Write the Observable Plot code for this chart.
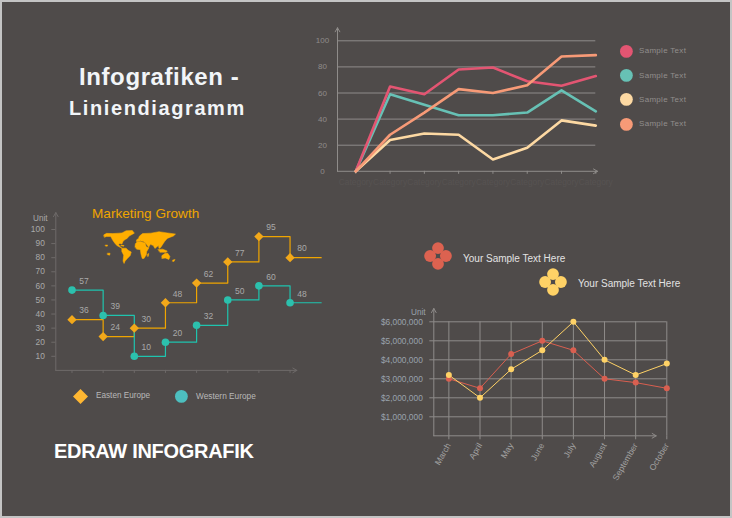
<!DOCTYPE html>
<html>
<head>
<meta charset="utf-8">
<script src="https://cdn.jsdelivr.net/npm/d3@7"></script>
<script src="https://cdn.jsdelivr.net/npm/@observablehq/plot@0.6"></script>
<style>
html,body{margin:0;padding:0;background:#4f4b4a;}
#page{position:relative;width:732px;height:518px;overflow:hidden;background:#4f4b4a;font-family:"Liberation Sans",Arial,sans-serif;box-sizing:border-box;border:2px solid #c4c4c4;}
#page .layer{position:absolute;left:-2px;top:-2px;width:732px;height:518px;}
#page .layer svg{background:transparent;display:block;}
.t{position:absolute;white-space:nowrap;line-height:1;}
</style>
</head>
<body>
<div id="page"></div>
<script>
// Top-right chart
const topCategories = ["Category","Category","Category","Category","Category","Category","Category","Category"];
const pinkValues   = [0,65,59,78,79.5,69,65.5,73];
const tealValues   = [0,59,51,43,43,45,62,46];
const creamValues  = [0,24,29,28,9,18,39,35];
const orangeValues = [0,28,45,63,60,66,88,89];
const topTicks = [0,20,40,60,80,100];
const topLegend = ["Sample Text","Sample Text","Sample Text","Sample Text"];

// Marketing growth chart
const stepValuesEast = [36,24,30,48,62,77,95,80,80];
const stepValuesWest = [57,39,10,20,32,50,60,48,48];
const stepTicks = [10,20,30,40,50,60,70,80,90,100];

// Lower-right chart
const months = ["March","April","May","June","July","August","September","October"];
const redValues    = [3.0,2.5,4.3,5.0,4.5,3.0,2.8,2.5];
const yellowValues = [3.2,2.0,3.5,4.5,6.0,4.0,3.2,3.8];
const moneyTicks = [1,2,3,4,5,6];

// Rough world outline (lon, lat)
const continents = {
  northAmerica:[[-168,65],[-155,71],[-125,70],[-95,72],[-80,73],[-60,82],[-30,83],[-20,72],[-45,60],[-55,50],[-65,45],[-75,38],[-80,27],[-90,29],[-97,25],[-90,16],[-80,9],[-90,13],[-105,20],[-115,30],[-125,42],[-135,58],[-155,58],[-165,55]],
  southAmerica:[[-80,9],[-60,9],[-50,0],[-35,-7],[-40,-22],[-55,-35],[-65,-45],[-70,-55],[-75,-45],[-72,-20],[-81,-5]],
  africa:[[-17,15],[-15,28],[-5,36],[10,37],[32,31],[38,15],[51,11],[40,-5],[38,-18],[27,-34],[18,-34],[12,-15],[9,3],[-8,5]],
  eurasia:[[-10,37],[-9,44],[0,50],[5,60],[20,70],[60,72],[100,78],[140,73],[180,68],[170,60],[155,55],[140,50],[128,38],[120,28],[108,12],[100,8],[97,20],[80,8],[72,20],[58,25],[50,13],[35,30],[25,37],[10,40],[0,38]],
  australia:[[114,-22],[130,-12],[142,-12],[153,-26],[148,-38],[130,-32],[115,-34]],
  indonesia:[[96,4],[118,5],[140,-3],[135,-8],[105,-8]],
  madagascar:[[44,-16],[50,-13],[48,-25],[44,-25]],
  newZealand:[[168,-40],[178,-38],[172,-47],[166,-46]],
  caribbean:[[-84,22],[-70,20],[-72,17],[-84,19]],
  pacificA:[[-160,22],[-150,22],[-152,17],[-160,18]],
  pacificB:[[-150,-12],[-138,-12],[-140,-20],[-150,-18]]
};
const mapRows = Object.entries(continents).flatMap(([name,pts]) => pts.map(([lon,lat]) => ({name,lon,lat})));

const rowsOf = (arr, extra={}) => arr.map((v,i)=>({i,v,...extra}));
const W = 732, H = 518;
const page = document.getElementById("page");
const font = '"Liberation Sans",Arial,sans-serif';
function addLayer(opts){
  const d = document.createElement("div"); d.className="layer";
  d.appendChild(Plot.plot({width:W,height:H,style:{background:"transparent",fontFamily:font,overflow:"visible"},...opts}));
  page.appendChild(d);
}
function addText(txt,x,y,size,color,extra={}){
  const e=document.createElement("div"); e.className="t"; e.textContent=txt;
  Object.assign(e.style,{left:(x-2)+"px",top:(y-2-size/2)+"px",fontSize:size+"px",color,...extra});
  page.appendChild(e);
}
function addSwatch(x,y,r,color,shape){
  const s=document.createElementNS("http://www.w3.org/2000/svg","svg");
  const pad=r+1, size=pad*2;
  s.setAttribute("width",size); s.setAttribute("height",size);
  s.setAttribute("viewBox",`${-pad} ${-pad} ${size} ${size}`);
  s.style.cssText=`position:absolute;left:${x-2-pad}px;top:${y-2-pad}px`;
  const ns=s.namespaceURI;
  if(shape==="clover"){
    const k=7.9, rr=5.9;
    [[0,-k],[0,k],[-k,0],[k,0]].forEach(([cx,cy])=>{
      const c=document.createElementNS(ns,"circle");
      c.setAttribute("cx",cx);c.setAttribute("cy",cy);c.setAttribute("r",rr);c.setAttribute("fill",color);s.appendChild(c);
    });
  } else if(shape==="diamond"){
    const p=document.createElementNS(ns,"path");
    p.setAttribute("d",`M0,${-r}L${r},0L0,${r}L${-r},0Z`);p.setAttribute("fill",color);s.appendChild(p);
  } else {
    const c=document.createElementNS(ns,"circle");c.setAttribute("r",r);c.setAttribute("fill",color);s.appendChild(c);
  }
  page.appendChild(s);
}

/* ---------- top chart ---------- */
addLayer({
  marginLeft:337,marginRight:W-595.3,marginTop:40.3,marginBottom:H-170.8,
  x:{domain:[-0.533,7]},y:{domain:[0,100]},
  marks:[
    Plot.gridY(topTicks.slice(1),{stroke:"#8f8c8a",strokeOpacity:1,strokeWidth:1}),
    Plot.axisY({ticks:topTicks,tickSize:0,tickPadding:15,textAnchor:"middle",fontSize:8,fill:"#8f8c8a",label:null}),
    Plot.axisX({ticks:d3.range(8),tickFormat:i=>topCategories[i],tickSize:3,tickPadding:5,stroke:"#8f8c8a",fill:"#575352",fontSize:8.4,label:null}),
    Plot.arrow([{a:-0.533,b:0,c:7.05,d:0}],{x1:"a",y1:"b",x2:"c",y2:"d",stroke:"#8f8c8a",strokeWidth:1,bend:0,headLength:7}),
    Plot.arrow([{a:-0.533,b:0,c:-0.533,d:110}],{x1:"a",y1:"b",x2:"c",y2:"d",stroke:"#8f8c8a",strokeWidth:1,bend:0,headLength:7}),
    Plot.line(rowsOf(tealValues),{x:"i",y:"v",stroke:"#67c1b5",strokeWidth:2.6,curve:"linear"}),
    Plot.line(rowsOf(pinkValues),{x:"i",y:"v",stroke:"#e35572",strokeWidth:2.6,curve:"linear"}),
    Plot.line(rowsOf(creamValues),{x:"i",y:"v",stroke:"#fdd9a3",strokeWidth:2.6,curve:"linear"}),
    Plot.line(rowsOf(orangeValues),{x:"i",y:"v",stroke:"#f79a77",strokeWidth:2.6,curve:"linear"})
  ]
});
[["#e35572",51],["#67c1b5",75.7],["#fdd9a3",99.7],["#f79a77",124]].forEach(([c,y],k)=>{
  addSwatch(626,y,6.4,c);
  addText(topLegend[k],639,y,8,"#918e8c",{letterSpacing:"0.3px"});
});

/* ---------- marketing growth ---------- */
const eastRows = rowsOf(stepValuesEast), westRows = rowsOf(stepValuesWest);
addLayer({
  marginLeft:55.3,marginRight:W-320.7,marginTop:229,marginBottom:H-369.9,
  x:{domain:[-0.52,8]},y:{domain:[0,100]},
  marks:[
    Plot.axisY({ticks:stepTicks,tickSize:4,tickPadding:7,fontSize:8.4,fill:"#a9a9a9",stroke:"#6e6a69",label:null}),
    Plot.axisX({ticks:d3.range(8),tickFormat:()=>"",tickSize:3,stroke:"#6e6a69",label:null}),
    Plot.arrow([{a:-0.52,b:0,c:7.22,d:0}],{x1:"a",y1:"b",x2:"c",y2:"d",stroke:"#6e6a69",strokeWidth:1,bend:0,headLength:7}),
    Plot.arrow([{a:-0.52,b:0,c:-0.52,d:112}],{x1:"a",y1:"b",x2:"c",y2:"d",stroke:"#6e6a69",strokeWidth:1,bend:0,headLength:7}),
    Plot.line(eastRows,{x:"i",y:"v",stroke:"#f0a500",strokeWidth:1.2,curve:"step-after"}),
    Plot.line(westRows,{x:"i",y:"v",stroke:"#1fc4ae",strokeWidth:1.2,curve:"step-after"}),
    Plot.dot(eastRows.slice(0,8),{x:"i",y:"v",symbol:"diamond2",r:4.2,fill:"#f2a81a",stroke:"none"}),
    Plot.dot(westRows.slice(0,8),{x:"i",y:"v",symbol:"circle",r:3.8,fill:"#2cc0ad",stroke:"none"}),
    Plot.text(eastRows.slice(0,8),{x:"i",y:"v",text:"v",dx:12,dy:-9,fill:"#a9a9a9",fontSize:8.5}),
    Plot.text(westRows.slice(0,8),{x:"i",y:"v",text:"v",dx:12,dy:-9,fill:"#a9a9a9",fontSize:8.5})
  ]
});
addText("Marketing Growth",92,214,13.6,"#f0a500");
addText("Unit",33,219.5,8.2,"#a9a9a9");
addSwatch(80,396,7.5,"#ffb732","diamond");
addSwatch(181,396,6.4,"#4dbfbf");
addText("Easten Europe",96,396,8.2,"#b8b8b8");
addText("Western Europe",196,396,8.3,"#b8b8b8");
addLayer({
  marginLeft:103,marginRight:W-175,marginTop:230,marginBottom:H-263,
  x:{domain:[-170,180],axis:null},y:{domain:[-55,83],axis:null},
  marks:[
    Plot.line(mapRows,{x:"lon",y:"lat",z:"name",fill:"#ffae00",stroke:"#ffae00",strokeWidth:0.5,curve:"linear-closed"})
  ]
});

/* ---------- lower-right chart ---------- */
addLayer({
  marginLeft:433.3,marginRight:W-666.3,marginTop:321.3,marginBottom:H-435.3,
  x:{domain:[-0.484,7]},y:{domain:[0,6]},
  marks:[
    Plot.gridY(moneyTicks,{stroke:"#8f8c8a",strokeOpacity:1}),
    Plot.gridX(d3.range(8),{stroke:"#8f8c8a",strokeOpacity:1}),
    Plot.axisY({ticks:moneyTicks,tickSize:4,tickPadding:7,tickFormat:v=>"$"+d3.format(",")(v*1e6),fontSize:8.4,fill:"#99a2ac",stroke:"#8f8c8a",label:null}),
    Plot.axisX({ticks:d3.range(8),tickFormat:i=>months[i],tickRotate:-60,tickSize:4,tickPadding:4,fontSize:8.5,fill:"#a3a3a3",stroke:"#8f8c8a",label:null}),
    Plot.arrow([{a:-0.484,b:0,c:6.66,d:0}],{x1:"a",y1:"b",x2:"c",y2:"d",stroke:"#8f8c8a",strokeWidth:1,bend:0,headLength:7}),
    Plot.arrow([{a:-0.484,b:0,c:-0.484,d:6.7}],{x1:"a",y1:"b",x2:"c",y2:"d",stroke:"#8f8c8a",strokeWidth:1,bend:0,headLength:7}),
    Plot.line(rowsOf(redValues),{x:"i",y:"v",stroke:"#d95f50",strokeWidth:1}),
    Plot.line(rowsOf(yellowValues),{x:"i",y:"v",stroke:"#ffd266",strokeWidth:1}),
    Plot.dot(rowsOf(redValues),{x:"i",y:"v",r:3,fill:"#d95f50",stroke:"none"}),
    Plot.dot(rowsOf(yellowValues),{x:"i",y:"v",r:3,fill:"#ffd266",stroke:"none"})
  ]
});
addText("Unit",411,313.5,8.2,"#99a2ac");
addSwatch(438.3,256,14,"#dc6250","clover");
addSwatch(553.3,281.7,14,"#ffd266","clover");
addText("Your Sample Text Here",463,258.5,10,"#e2e2e2");
addText("Your Sample Text Here",578,284,10,"#e2e2e2");

/* ---------- titles ---------- */
addText("Infografiken -",79,77,24,"#f2f5f8",{fontWeight:"bold",letterSpacing:"0.6px"});
addText("Liniendiagramm",69,108,20,"#f2f5f8",{fontWeight:"bold",letterSpacing:"1.6px"});
addText("EDRAW INFOGRAFIK",54,451,20,"#ffffff",{fontWeight:"bold",letterSpacing:"-0.3px"});
</script>
</body>
</html>
